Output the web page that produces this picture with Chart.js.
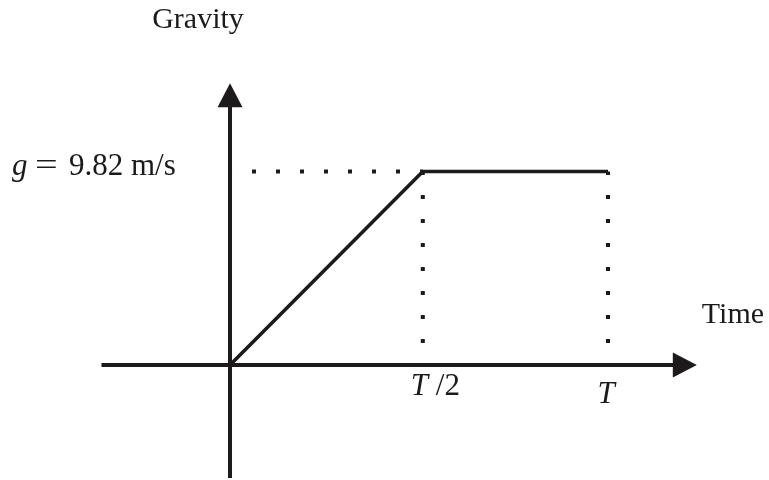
<!DOCTYPE html>
<html>
<head>
<meta charset="utf-8">
<script src="https://cdn.jsdelivr.net/npm/chart.js@4/dist/chart.umd.min.js"></script>
<style>
  html, body { margin: 0; padding: 0; background: #fff; }
  #wrap { width: 769px; height: 480px; }
</style>
</head>
<body>
<div id="wrap"><canvas id="gravityChart" width="769" height="480"></canvas></div>
<script>
// data (time in units of T, gravity in m/s)
const gravityTime  = [0, 0.51, 1];
const gravityValue = [0, 9.82, 9.82];
const gLevel       = 9.82;
const tickValues   = [0.51, 1];
const tickLabels   = ['T/2', 'T'];

const ink = '#1c1a1b';
const serif = '"Liberation Serif", "Times New Roman", serif';

// axis extents (data units) for the hand drawn arrows
const xAxisFrom = -0.34, xAxisTo = 1.235;
const yAxisFrom = -5.74, yAxisTo = 14.3;

function arrowHead(ctx, x, y, dir) {
  const len = 24, half = 12.5;
  ctx.beginPath();
  if (dir === 'right') {
    ctx.moveTo(x, y);
    ctx.lineTo(x - len, y - half);
    ctx.lineTo(x - len, y + half);
  } else {
    ctx.moveTo(x, y);
    ctx.lineTo(x - half, y + len);
    ctx.lineTo(x + half, y + len);
  }
  ctx.closePath();
  ctx.fill();
}

const axesPlugin = {
  id: 'axesPlugin',
  beforeDatasetsDraw(chart) {
    const { ctx, scales: { x, y } } = chart;
    const x0 = x.getPixelForValue(0), y0 = y.getPixelForValue(0);
    ctx.save();
    ctx.strokeStyle = ink;
    ctx.fillStyle = ink;
    ctx.lineWidth = 4;
    ctx.lineCap = 'butt';
    const xEnd = x.getPixelForValue(xAxisTo);
    const yEnd = y.getPixelForValue(yAxisTo);
    ctx.beginPath();
    ctx.moveTo(x.getPixelForValue(xAxisFrom), y0);
    ctx.lineTo(xEnd - 20, y0);
    ctx.moveTo(x0, y.getPixelForValue(yAxisFrom));
    ctx.lineTo(x0, yEnd + 20);
    ctx.stroke();
    arrowHead(ctx, xEnd, y0, 'right');
    arrowHead(ctx, x0, yEnd, 'up');
    ctx.restore();
  },
  afterDraw(chart) {
    const { ctx, scales: { x, y } } = chart;
    const x0 = x.getPixelForValue(0), y0 = y.getPixelForValue(0);
    const gy = y.getPixelForValue(gLevel);
    ctx.save();
    ctx.fillStyle = ink;
    ctx.textBaseline = 'alphabetic';

    // axis titles
    ctx.font = '30px ' + serif;
    ctx.textAlign = 'center';
    ctx.fillText('Gravity', x0 - 32, 28);
    ctx.textAlign = 'left';
    ctx.fillText('Time', x.getPixelForValue(xAxisTo) + 5, y0 - 42);

    // g label: italic g, wide math equals, then the value
    const base = gy + 3.5;
    ctx.font = 'italic 31px ' + serif;
    ctx.fillText('g', x0 - 218, base);
    ctx.save();
    ctx.font = '31px ' + serif;
    ctx.translate(x0 - 195, base);
    ctx.scale(1.3, 1);
    ctx.fillText('=', 0, 0);
    ctx.restore();
    ctx.font = '31px ' + serif;
    ctx.fillText('9.82 m/s', x0 - 161, base);

    // tick labels under the time axis
    tickValues.forEach((v, i) => {
      const px = x.getPixelForValue(v);
      const lab = tickLabels[i];
      const head = lab.charAt(0), rest = lab.slice(1);
      if (rest) {
        const b = y0 + 30;
        ctx.font = 'italic 31px ' + serif;
        ctx.fillText(head, px - 12, b);
        ctx.font = '31px ' + serif;
        ctx.fillText(rest, px + 13, b);
      } else {
        ctx.font = 'italic 31px ' + serif;
        ctx.textAlign = 'center';
        ctx.fillText(head, px - 2, y0 + 38);
        ctx.textAlign = 'left';
      }
    });
    ctx.restore();
  }
};

function dotted(points) {
  return {
    data: points,
    borderColor: ink,
    borderWidth: 4,
    borderDash: [4, 20],
    borderDashOffset: 2,
    borderCapStyle: 'butt',
    pointRadius: 0,
    fill: false
  };
}

const lineData = gravityTime.map((t, i) => ({ x: t, y: gravityValue[i] }));

new Chart(document.getElementById('gravityChart'), {
  type: 'scatter',
  data: {
    datasets: [
      dotted([{ x: 0, y: gLevel }, { x: tickValues[0], y: gLevel }]),
      dotted([{ x: tickValues[0], y: 0 }, { x: tickValues[0], y: gLevel }]),
      dotted([{ x: tickValues[1], y: 0 }, { x: tickValues[1], y: gLevel }]),
      {
        data: lineData,
        showLine: true,
        borderColor: ink,
        borderWidth: 3.6,
        borderJoinStyle: 'miter',
        pointRadius: 0,
        fill: false
      }
    ]
  },
  options: {
    responsive: false,
    animation: false,
    devicePixelRatio: 1,
    layout: { padding: 0 },
    datasets: { scatter: { showLine: true } },
    plugins: { legend: { display: false }, tooltip: { enabled: false } },
    scales: {
      x: { type: 'linear', display: false, min: -0.6085, max: 1.4259 },
      y: { type: 'linear', display: false, min: -5.84, max: 18.53 }
    }
  },
  plugins: [axesPlugin]
});
</script>
</body>
</html>
